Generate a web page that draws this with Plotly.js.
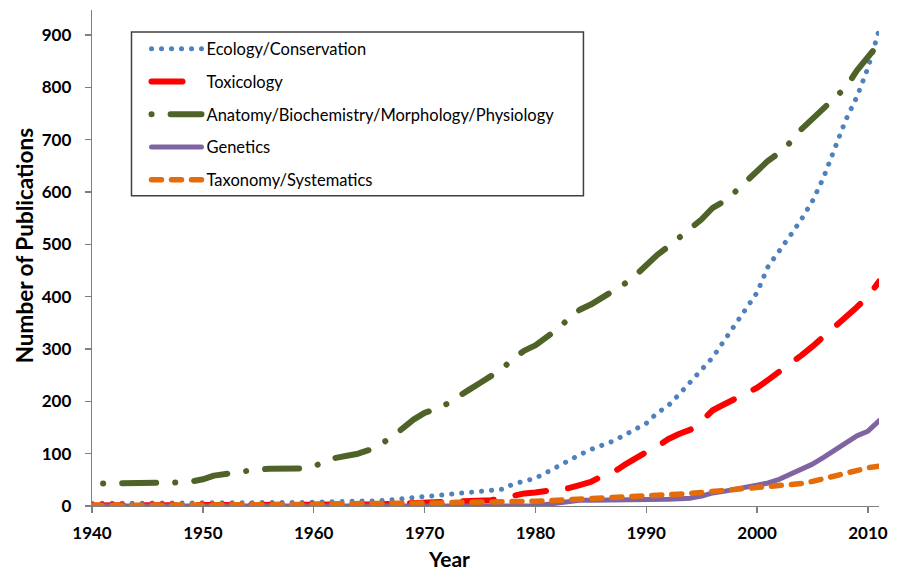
<!DOCTYPE html>
<html>
<head>
<meta charset="utf-8">
<script src="https://cdn.plot.ly/plotly-3.0.1.min.js"></script>
<style>
  html, body { margin: 0; padding: 0; background: #fff; }
  #chart { width: 899px; height: 570px; }
  .scatterlayer .js-line, .legend .js-line { stroke-linecap: round; stroke-linejoin: round; }
</style>
</head>
<body>
<div id="chart"></div>
<script>
const years = [1940,1941,1942,1943,1944,1945,1946,1947,1948,1949,
  1950,1951,1952,1953,1954,1955,1956,1957,1958,1959,
  1960,1961,1962,1963,1964,1965,1966,1967,1968,1969,
  1970,1971,1972,1973,1974,1975,1976,1977,1978,1979,
  1980,1981,1982,1983,1984,1985,1986,1987,1988,1989,
  1990,1991,1992,1993,1994,1995,1996,1997,1998,1999,
  2000,2001,2002,2003,2004,2005,2006,2007,2008,2009,
  2010,2011];

const ecology = [5,5,5,5,5,5,5,5,5,5,
  5,6,6,6,6,6,7,7,7,7,
  7,8,8,8,8,9,10,12,14,16,
  17,20,22,25,26,28,30,32,42,47,
  53,64,76,87,98,108,115,124,135,146,
  158,178,192,214,238,260,284,315,347,376,
  408,458,486,517,548,583,628,682,738,782,
  837,909];

const toxicology = [1,1,1,1,1,1,1,1,1,1,
  1,1,1,1,1,1,2,2,2,2,
  2,2,2,3,3,3,3,4,5,6,
  7,8,9,10,10,11,11,15,20,24,
  26,28,30,34,40,46,57,64,78,92,
  103,114,128,138,146,162,183,194,204,216,
  226,241,256,273,288,305,323,343,360,380,
  400,429];

const anatomy = [null,43,43,44,44,44,44,45,45,47,
  51,58,61,64,68,70,71,71,71,72,
  76,85,92,96,100,107,118,130,148,165,
  178,185,195,210,222,235,250,262,282,297,
  307,323,338,358,375,385,397,410,424,440,
  460,480,496,514,530,548,570,582,600,620,
  640,660,675,695,720,740,760,780,800,832,
  858,884];

const genetics = [0,0,0,0,0,0,0,0,0,0,
  0,0,0,0,0,0,0,0,0,0,
  0,0,0,0,0,0,0,0,0,0,
  0,0,0,0,0,0,0,0,0,0,
  0,3,6,9,11,11,11,11,12,12,
  12,12,13,14,15,19,25,28,32,35,
  39,44,51,60,70,80,93,107,122,134,
  143,163];

const taxonomy = [1,1,1,1,1,1,1,1,1,1,
  1,2,2,2,2,2,2,2,2,3,
  3,4,4,5,5,5,5,6,6,6,
  6,6,6,7,7,7,8,8,9,9,
  9,10,11,12,13,14,14,15,16,17,
  19,20,21,22,24,26,28,29,31,33,
  34,37,39,40,43,47,52,58,63,69,
  73,76];

const seriesNames = ['Ecology/Conservation','Toxicology','Anatomy/Biochemistry/Morphology/Physiology','Genetics','Taxonomy/Systematics'];
const xTicks = [1940,1950,1960,1970,1980,1990,2000,2010];
const yTicks = [0,100,200,300,400,500,600,700,800,900];

const FONT = 'Lato, "Open Sans", sans-serif';

function tr(y, name, color, width, dash, grp) {
  return {
    type: 'scatter', mode: 'lines', x: years, y: y, name: name,
    legendgroup: grp, connectgaps: false,
    line: { color: color, width: width, dash: dash, shape: 'linear' },
    hoverinfo: 'x+y+name'
  };
}

const data = [
  tr(ecology, seriesNames[0], '#4F81BD', 5, '0.1px,9.9px', 'g1'),
  tr(toxicology, seriesNames[1], '#FF0000', 6, '31px,22px', 'g2'),
  tr(anatomy, seriesNames[2], '#4F6228', 6, '0.1px,19px,34px,19px', 'g3'),
  tr(genetics, seriesNames[3], '#8064A2', 5, 'solid', 'g4'),
  tr(taxonomy, seriesNames[4], '#E46C0A', 5.5, '10px,10px', 'g5')
];

const W = 899, H = 570;
const L = 91.5, R = 20.4, T = 10, B = 63.5;
const pw = W - L - R, ph = H - T - B;
function px2x(p) { return (p - L) / pw; }
function py2y(p) { return (H - B - p) / ph; }

const layout = {
  width: W, height: H,
  margin: { l: L, r: R, t: T, b: B, pad: 0 },
  paper_bgcolor: '#ffffff', plot_bgcolor: '#ffffff',
  font: { family: FONT, color: '#000' },
  showlegend: true,
  legend: {
    x: px2x(146), y: py2y(31.5), xanchor: 'left', yanchor: 'top',
    bgcolor: 'rgba(0,0,0,0)', borderwidth: 0,
    font: { family: FONT, size: 16.5, color: '#000' },
    traceorder: 'grouped', tracegroupgap: 8.3,
    itemwidth: 50, valign: 'middle'
  },
  shapes: [
    { type: 'rect', xref: 'paper', yref: 'paper', layer: 'above',
      x0: px2x(131), x1: px2x(583), y0: py2y(196), y1: py2y(32),
      line: { color: '#404040', width: 1.5 }, fillcolor: '#ffffff' }
  ],
  xaxis: {
    range: [1940, 2011], tickmode: 'array', tickvals: xTicks, ticktext: xTicks.map(String),
    showgrid: false, zeroline: false, showline: true, linecolor: '#7f7f7f', linewidth: 1.3,
    ticks: 'outside', ticklen: 6, tickcolor: '#7f7f7f', tickwidth: 1.3,
    tickfont: { family: FONT, size: 17, weight: 700, color: '#000' },
    ticklabelstandoff: 5
  },
  yaxis: {
    range: [0, 948], tickmode: 'array', tickvals: yTicks, ticktext: yTicks.map(String),
    showgrid: false, zeroline: false, showline: true, linecolor: '#7f7f7f', linewidth: 1.3,
    ticks: 'outside', ticklen: 6, tickcolor: '#7f7f7f', tickwidth: 1.3,
    tickfont: { family: FONT, size: 17, weight: 700, color: '#000' },
    ticklabelstandoff: 10
  },
  annotations: [
    { text: 'Year', xref: 'paper', yref: 'paper', x: px2x(449), y: py2y(559),
      xanchor: 'center', yanchor: 'middle', showarrow: false,
      font: { family: FONT, size: 21, weight: 700, color: '#000' } },
    { text: 'Number of Publications', xref: 'paper', yref: 'paper', x: px2x(24), y: py2y(246),
      xanchor: 'center', yanchor: 'middle', showarrow: false, textangle: -90,
      font: { family: FONT, size: 22.5, weight: 700, color: '#000' } }
  ]
};

Plotly.newPlot('chart', data, layout, { displayModeBar: false, staticPlot: true });
</script>
</body>
</html>
